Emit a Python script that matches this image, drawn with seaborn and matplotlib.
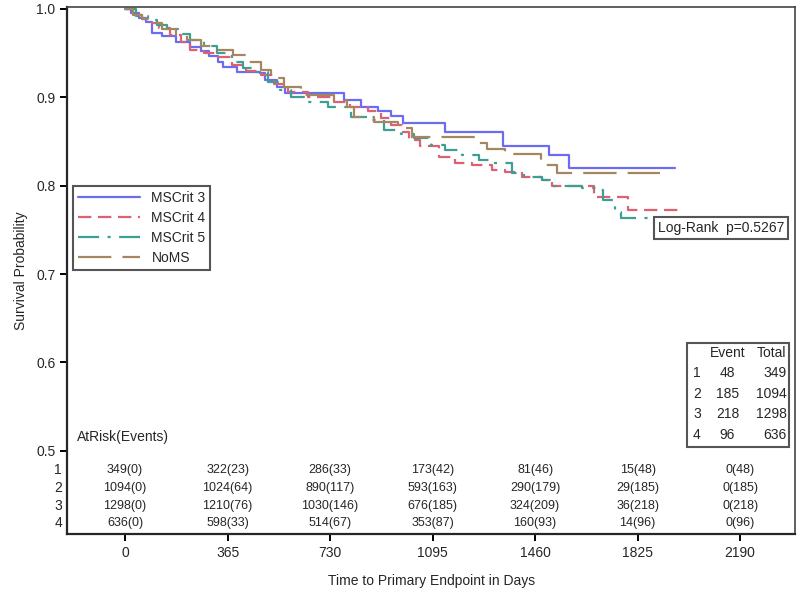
import pandas as pd
import numpy as np
import matplotlib.pyplot as plt
import seaborn as sns
from matplotlib.lines import Line2D
from matplotlib.patches import Rectangle

# Kaplan-Meier step knots (day, survival)
groups = ['MSCrit 3', 'MSCrit 4', 'MSCrit 5', 'NoMS']

crit3_days = [0, 20, 50, 75, 95, 130, 180, 230, 270, 300, 330, 350, 400, 480, 500, 540, 570,
              780, 841, 900, 948, 990, 1140, 1345, 1510, 1580, 1957]
crit3_surv = [1.0, 0.995, 0.99, 0.985, 0.973, 0.969, 0.963, 0.957, 0.952, 0.947, 0.94, 0.934, 0.929, 0.927, 0.92, 0.912, 0.905,
              0.897, 0.889, 0.885, 0.879, 0.871, 0.861, 0.845, 0.835, 0.820, 0.820]

crit4_days = [0, 30, 60, 89, 120, 160, 200, 233, 280, 329, 380, 430, 483, 530, 580, 650, 745, 800, 865, 910,
              948, 985, 1010, 1050, 1116, 1174, 1234, 1306, 1353, 1413, 1485, 1520, 1670, 1790, 1986]
crit4_surv = [1.0, 0.993, 0.988, 0.984, 0.978, 0.97, 0.962, 0.954, 0.95, 0.946, 0.937, 0.93, 0.925, 0.915, 0.906, 0.9, 0.895, 0.889, 0.884, 0.876,
              0.869, 0.861, 0.852, 0.845, 0.833, 0.826, 0.823, 0.818, 0.815, 0.810, 0.806, 0.80, 0.787, 0.772, 0.772]

crit5_days = [0, 40, 80, 114, 150, 190, 233, 280, 329, 380, 420, 458, 508, 550, 590, 650, 723, 805, 865, 923,
              984, 1030, 1090, 1138, 1200, 1259, 1300, 1378, 1420, 1485, 1520, 1628, 1687, 1700, 1746, 1764, 1905]
crit5_surv = [1.0, 0.992, 0.987, 0.982, 0.977, 0.972, 0.965, 0.958, 0.95, 0.94, 0.933, 0.929, 0.917, 0.908, 0.9, 0.895, 0.889, 0.878, 0.874, 0.863,
              0.858, 0.854, 0.846, 0.840, 0.835, 0.829, 0.826, 0.814, 0.81, 0.806, 0.80, 0.797, 0.795, 0.784, 0.770, 0.763, 0.763]

noms_days = [0, 30, 60, 90, 130, 180, 222, 270, 315, 386, 430, 483, 520, 565, 626, 745, 790, 816, 888, 973,
             1020, 1260, 1290, 1352, 1480, 1538, 1903]
noms_surv = [1.0, 0.993, 0.988, 0.984, 0.977, 0.97, 0.965, 0.958, 0.954, 0.948, 0.94, 0.931, 0.922, 0.912, 0.903, 0.897, 0.889, 0.878, 0.872, 0.865,
             0.855, 0.848, 0.841, 0.836, 0.823, 0.814, 0.814]

risk_days = [0, 365, 730, 1095, 1460, 1825, 2190]
risk_row1 = ['349(0)', '322(23)', '286(33)', '173(42)', '81(46)', '15(48)', '0(48)']
risk_row2 = ['1094(0)', '1024(64)', '890(117)', '593(163)', '290(179)', '29(185)', '0(185)']
risk_row3 = ['1298(0)', '1210(76)', '1030(146)', '676(185)', '324(209)', '36(218)', '0(218)']
risk_row4 = ['636(0)', '598(33)', '514(67)', '353(87)', '160(93)', '14(96)', '0(96)']

events = [48, 185, 218, 96]
totals = [349, 1094, 1298, 636]
p_value = 0.5267

colors = {'MSCrit 3': '#6c6cf2', 'MSCrit 4': '#dc6171', 'MSCrit 5': '#3e9e94', 'NoMS': '#a4865f'}
dash_map = {'MSCrit 3': '', 'MSCrit 4': (6, 3), 'MSCrit 5': (9.5, 3.8, 1.4, 3.8), 'NoMS': (15, 5)}

frames = []
for g, d, s in zip(groups, [crit3_days, crit4_days, crit5_days, noms_days],
                   [crit3_surv, crit4_surv, crit5_surv, noms_surv]):
    frames.append(pd.DataFrame({'day': d, 'surv': s, 'group': g}))
df = pd.concat(frames, ignore_index=True)

sns.set_style('ticks')
plt.rcParams['font.family'] = ['Liberation Sans', 'DejaVu Sans']

fig = plt.figure(figsize=(8, 5.92), dpi=100)
ax = fig.add_axes([0.084, 0.098, 0.91, 0.89])

sns.lineplot(data=df, x='day', y='surv', hue='group', style='group',
             hue_order=groups, style_order=groups, palette=colors, dashes=dash_map,
             estimator=None, drawstyle='steps-post', linewidth=1.6, legend=False, ax=ax)

ax.set_xlim(-206, 2386)
ax.set_ylim(0.406, 1.002)
ax.set_xticks(risk_days)
ax.set_xticklabels([str(d) for d in risk_days], fontsize=10)
ax.set_yticks([0.5, 0.6, 0.7, 0.8, 0.9, 1.0])
ax.set_yticklabels(['0.5', '0.6', '0.7', '0.8', '0.9', '1.0'], fontsize=10)
ax.tick_params(length=5, width=1.4, color='black')
ax.set_xlabel('Time to Primary Endpoint in Days', fontsize=10, labelpad=10)
ax.set_ylabel('Survival Probability', fontsize=10, labelpad=6)
for side in ['left', 'bottom']:
    ax.spines[side].set_linewidth(1.6)
for side in ['top', 'right']:
    ax.spines[side].set_linewidth(1.2)
    ax.spines[side].set_color('#444444')

# legend
handles = []
for g in groups:
    if dash_map[g] == '':
        handles.append(Line2D([], [], color=colors[g], lw=1.6, linestyle='-'))
    else:
        handles.append(Line2D([], [], color=colors[g], lw=1.6, dashes=dash_map[g]))
leg = ax.legend(handles, groups, loc='upper left', bbox_to_anchor=(0.008, 0.661), borderaxespad=0,
                fontsize=10, handlelength=4.5, labelspacing=0.45, borderpad=0.35,
                fancybox=False, framealpha=1, edgecolor='#555555')
leg.get_frame().set_linewidth(1.5)

# log-rank box
ax.text(0.898, 0.581, f'Log-Rank  p={p_value}', transform=ax.transAxes, fontsize=10,
        ha='center', va='center',
        bbox=dict(boxstyle='square,pad=0.3', fc='white', ec='#555555', lw=1.5))

# event / total table
ax.add_patch(Rectangle((0.852, 0.165), 0.14, 0.197, transform=ax.transAxes,
                       fill=False, ec='#555555', lw=1.5))
ax.text(0.907, 0.344, 'Event', transform=ax.transAxes, fontsize=10, ha='center', va='center')
ax.text(0.988, 0.344, 'Total', transform=ax.transAxes, fontsize=10, ha='right', va='center')
row_y = [0.3055, 0.266, 0.227, 0.188]
for i in range(4):
    ax.text(0.865, row_y[i], str(i + 1), transform=ax.transAxes, fontsize=10, ha='center', va='center')
    ax.text(0.907, row_y[i], str(events[i]), transform=ax.transAxes, fontsize=10, ha='center', va='center')
    ax.text(0.988, row_y[i], str(totals[i]), transform=ax.transAxes, fontsize=10, ha='right', va='center')

# at-risk table inside the axes
ax.text(-172, 0.516, 'AtRisk(Events)', fontsize=10, ha='left', va='center')
risk_y = [0.4785, 0.458, 0.438, 0.418]
ytrans = ax.get_yaxis_transform()
for i, row in enumerate([risk_row1, risk_row2, risk_row3, risk_row4]):
    ax.text(-0.007, risk_y[i], str(i + 1), transform=ytrans, fontsize=10, ha='right', va='center')
    for d, lab in zip(risk_days, row):
        ax.text(d, risk_y[i], lab, fontsize=9, ha='center', va='center',
                family=['Liberation Sans Narrow', 'Liberation Sans', 'DejaVu Sans'])

fig.savefig('out.png', dpi=100)
